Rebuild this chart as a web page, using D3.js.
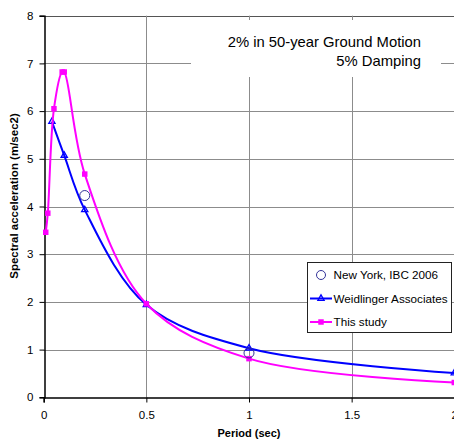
<!DOCTYPE html>
<html>
<head>
<meta charset="utf-8">
<script src="https://cdn.jsdelivr.net/npm/d3@7"></script>
<style>
  html, body { margin: 0; padding: 0; background: #fff; overflow: hidden; }
  svg { display: block; font-family: "Liberation Sans", Arial, sans-serif; }
</style>
</head>
<body>
<svg id="chart" width="454" height="440"></svg>
<script>
// Response spectra, period (sec) vs spectral acceleration (m/sec2)
const ibcPeriods = [0.2, 1.0];
const ibcValues = [4.23, 0.93];

const weidPeriods = [0.04, 0.1, 0.2, 0.5, 1.0, 2.0];
const weidValues = [5.78, 5.07, 3.93, 1.94, 1.03, 0.51];

const studyPeriods = [0.01, 0.02, 0.05, 0.09, 0.1, 0.2, 0.5, 1.0, 2.0];
const studyValues = [3.46, 3.86, 6.05, 6.82, 6.82, 4.68, 1.96, 0.81, 0.31];

const xTicks = [0, 0.5, 1, 1.5, 2];
const yTicks = [0, 1, 2, 3, 4, 5, 6, 7, 8];

const titleLines = ["2% in 50-year Ground Motion", "5% Damping"];
const legendLabels = ["New York, IBC 2006", "Weidlinger Associates", "This study"];

const BLUE = "#0000ff", PINK = "#ff00ff", CIRCLE = "#333399";

const svg = d3.select("#chart");
const x = d3.scaleLinear().domain([0, 2]).range([43.7, 454.3]);
const y = d3.scaleLinear().domain([0, 8]).range([397.3, 15.7]);

// grid
const grid = svg.append("g");
grid.selectAll("line.h").data(yTicks.filter(d => d > 0)).join("line")
  .attr("x1", x(0)).attr("x2", x(2))
  .attr("y1", d => Math.round(y(d)) + 0.5).attr("y2", d => Math.round(y(d)) + 0.5)
  .attr("stroke", d => d === 8 ? "#555" : "#8c8c8c").attr("stroke-width", 1);
grid.selectAll("line.v").data(xTicks.filter(d => d > 0)).join("line")
  .attr("x1", d => Math.round(x(d)) + 0.5).attr("x2", d => Math.round(x(d)) + 0.5)
  .attr("y1", y(8)).attr("y2", y(0))
  .attr("stroke", "#8c8c8c").attr("stroke-width", 1);

// title block
svg.append("rect").attr("x", 191).attr("y", 20).attr("width", 250).attr("height", 57).attr("fill", "#fff");
svg.append("text").attr("text-anchor", "end").attr("font-size", 14.8).attr("fill", "#000")
  .selectAll("tspan").data(titleLines).join("tspan")
  .attr("x", 421).attr("y", (d, i) => 47 + i * 18.5).text(d => d);

// axes
const xAxis = d3.axisBottom(x).tickValues(xTicks).tickSize(5).tickPadding(8)
  .tickFormat(d => String(d));
const yAxis = d3.axisLeft(y).tickValues(yTicks).tickSize(5).tickPadding(6)
  .tickFormat(d3.format("d"));
const gx = svg.append("g").attr("transform", `translate(0,${Math.round(y(0)) + 0.5})`).call(xAxis);
const gy = svg.append("g").attr("transform", `translate(${Math.round(x(0)) + 0.5},0)`).call(yAxis);
[gx, gy].forEach(g => {
  g.select(".domain").attr("stroke", "#000").attr("stroke-width", 1.5);
  g.selectAll(".tick line").attr("stroke", "#000");
  g.selectAll(".tick text").attr("font-family", "Liberation Sans, Arial, sans-serif")
    .attr("font-size", 11.5).attr("fill", "#000");
});

// axis titles
svg.append("text").attr("x", 249).attr("y", 437).attr("text-anchor", "middle")
  .attr("font-size", 11).attr("font-weight", "bold").text("Period (sec)");
svg.append("text").attr("transform", "translate(18,196) rotate(-90)").attr("text-anchor", "middle")
  .attr("font-size", 11.5).attr("font-weight", "bold").text("Spectral acceleration (m/sec2)");

// series
const curve = d3.curveCatmullRom.alpha(0.5);
const line = d3.line().x(d => x(d[0])).y(d => y(d[1])).curve(curve);
const weid = weidPeriods.map((p, i) => [p, weidValues[i]]);
const study = studyPeriods.map((p, i) => [p, studyValues[i]]);
const ibc = ibcPeriods.map((p, i) => [p, ibcValues[i]]);

const tri = d3.symbol().type(d3.symbolTriangle).size(17);
const sq = d3.symbol().type(d3.symbolSquare).size(30);

svg.append("path").datum(weid).attr("d", line).attr("fill", "none").attr("stroke", BLUE).attr("stroke-width", 2);
svg.append("g").selectAll("path").data(weid).join("path")
  .attr("transform", d => `translate(${x(d[0])},${y(d[1])})`).attr("d", tri)
  .attr("fill", "none").attr("stroke", BLUE).attr("stroke-width", 1.3);

svg.append("path").datum(study).attr("d", line).attr("fill", "none").attr("stroke", PINK).attr("stroke-width", 2);
svg.append("g").selectAll("path").data(study).join("path")
  .attr("transform", d => `translate(${x(d[0])},${y(d[1])})`).attr("d", sq)
  .attr("fill", PINK);

svg.append("g").selectAll("circle").data(ibc).join("circle")
  .attr("cx", d => x(d[0])).attr("cy", d => y(d[1])).attr("r", 5)
  .attr("fill", "none").attr("stroke", CIRCLE).attr("stroke-width", 1);

// legend
const lg = svg.append("g");
lg.append("rect").attr("x", 307.5).attr("y", 262.5).attr("width", 144).attr("height", 70)
  .attr("fill", "#fff").attr("stroke", "#222").attr("stroke-width", 1);
const rows = lg.selectAll("g").data(legendLabels).join("g")
  .attr("transform", (d, i) => `translate(0,${275 + i * 23.5})`);
rows.append("text").attr("x", 333.5).attr("y", 4.2).attr("font-size", 11.7).text(d => d);
rows.filter((d, i) => i === 0).append("circle").attr("cx", 321).attr("cy", 0).attr("r", 4.5)
  .attr("fill", "none").attr("stroke", CIRCLE);
rows.filter((d, i) => i > 0).append("line").attr("x1", 310).attr("x2", 332)
  .attr("stroke", (d, i) => i === 0 ? BLUE : PINK).attr("stroke-width", 2);
rows.filter((d, i) => i === 1).append("path").attr("transform", "translate(321,0)").attr("d", tri)
  .attr("fill", "none").attr("stroke", BLUE).attr("stroke-width", 1.3);
rows.filter((d, i) => i === 2).append("path").attr("transform", "translate(321,0)").attr("d", sq)
  .attr("fill", PINK);
</script>
</body>
</html>
